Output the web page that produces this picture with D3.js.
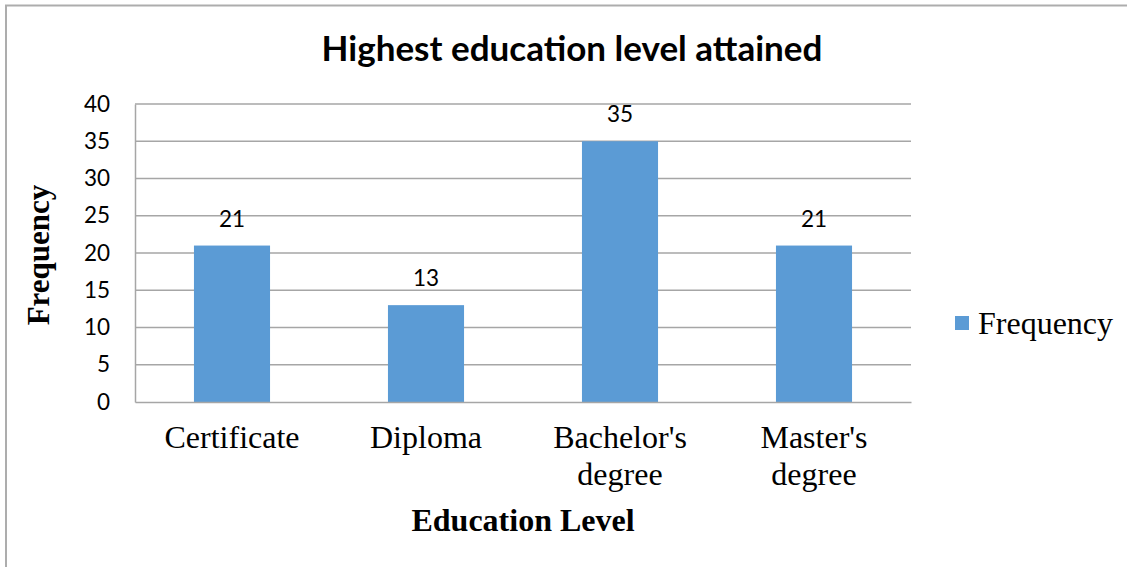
<!DOCTYPE html>
<html>
<head>
<meta charset="utf-8">
<script src="https://cdn.jsdelivr.net/npm/d3@7"></script>
<style>
  html, body { margin: 0; padding: 0; background: #fff; }
  svg { display: block; }
</style>
</head>
<body>
<script>
// Survey results: highest education level attained
const categories = ["Certificate", "Diploma", "Bachelor's degree", "Master's degree"];
const categoryLines = [["Certificate"], ["Diploma"], ["Bachelor's", "degree"], ["Master's", "degree"]];
const frequency = [21, 13, 35, 21];
const yTicks = [0, 5, 10, 15, 20, 25, 30, 35, 40];
const seriesName = "Frequency";

const W = 1127, H = 567;
const plot = { left: 135, right: 911, top: 104, bottom: 402 };
const barColor = "#5B9BD5";
const gridColor = "#A6A6A6";
const sans = "Lato, 'Open Sans', sans-serif";
const serif = "'Liberation Serif', 'DejaVu Serif', serif";

const svg = d3.select("body").append("svg")
  .attr("width", W).attr("height", H);

// chart frame (left and top edges)
svg.append("path")
  .attr("d", `M6,${H} L6,5.5 L${W},5.5`)
  .attr("fill", "none").attr("stroke", "#ADADAD").attr("stroke-width", 2);

const x = d3.scaleBand()
  .domain(categories)
  .range([plot.left, plot.right])
  .paddingInner(0.6078).paddingOuter(0.3039);

const y = d3.scaleLinear().domain([0, 40]).range([plot.bottom, plot.top]);

// horizontal gridlines
svg.append("g").selectAll("line").data(yTicks.filter(d => d > 0)).join("line")
  .attr("x1", plot.left).attr("x2", plot.right)
  .attr("y1", d => y(d)).attr("y2", d => y(d))
  .attr("stroke", gridColor).attr("stroke-width", 1.5);

// y axis
const yAxis = svg.append("g")
  .attr("transform", `translate(${plot.left},0)`)
  .call(d3.axisLeft(y).tickValues(yTicks).tickSize(0).tickPadding(25));
yAxis.select(".domain").attr("stroke", gridColor).attr("stroke-width", 1.5);
yAxis.selectAll("text")
  .attr("font-family", sans).attr("font-size", 22.5).attr("fill", "#000");

// bars
svg.append("g").selectAll("rect").data(frequency).join("rect")
  .attr("x", (d, i) => x(categories[i]))
  .attr("width", x.bandwidth())
  .attr("y", d => y(d))
  .attr("height", d => y(0) - y(d))
  .attr("fill", barColor);

// x axis baseline
const xAxis = svg.append("g")
  .attr("transform", `translate(0,${plot.bottom})`)
  .call(d3.axisBottom(x).tickSize(0).tickFormat(""));
xAxis.select(".domain").attr("stroke", gridColor).attr("stroke-width", 1.5);

// category labels (wrapped)
svg.append("g").selectAll("text").data(categories).join("text")
  .attr("x", d => x(d) + x.bandwidth() / 2)
  .attr("y", 448)
  .attr("text-anchor", "middle")
  .attr("font-family", serif).attr("font-size", 32).attr("fill", "#000")
  .each(function (d, i) {
    d3.select(this).selectAll("tspan").data(categoryLines[i]).join("tspan")
      .attr("x", x(d) + x.bandwidth() / 2)
      .attr("dy", (t, j) => j === 0 ? 0 : 37)
      .text(t => t);
  });

// value labels
svg.append("g").selectAll("text").data(frequency).join("text")
  .attr("x", (d, i) => x(categories[i]) + x.bandwidth() / 2)
  .attr("y", d => y(d) - 19)
  .attr("text-anchor", "middle")
  .attr("font-family", sans).attr("font-size", 22.5).attr("fill", "#000")
  .text(d => d);

// title
svg.append("text")
  .attr("x", 572).attr("y", 61)
  .attr("text-anchor", "middle")
  .attr("font-family", sans).attr("font-weight", "bold").attr("font-size", 35)
  .attr("fill", "#000")
  .text("Highest education level attained");

// axis titles
svg.append("text")
  .attr("x", 523).attr("y", 531)
  .attr("text-anchor", "middle")
  .attr("font-family", serif).attr("font-weight", "bold").attr("font-size", 32)
  .attr("fill", "#000")
  .text("Education Level");

svg.append("text")
  .attr("transform", "translate(49,255) rotate(-90)")
  .attr("text-anchor", "middle")
  .attr("font-family", serif).attr("font-weight", "bold").attr("font-size", 31)
  .attr("fill", "#000")
  .text("Frequency");

// legend
const legend = svg.append("g").attr("transform", "translate(955,316)");
legend.append("rect").attr("width", 14).attr("height", 14).attr("fill", barColor);
legend.append("text")
  .attr("x", 23).attr("y", 18)
  .attr("font-family", serif).attr("font-size", 32).attr("fill", "#000")
  .text(seriesName);
</script>
</body>
</html>
